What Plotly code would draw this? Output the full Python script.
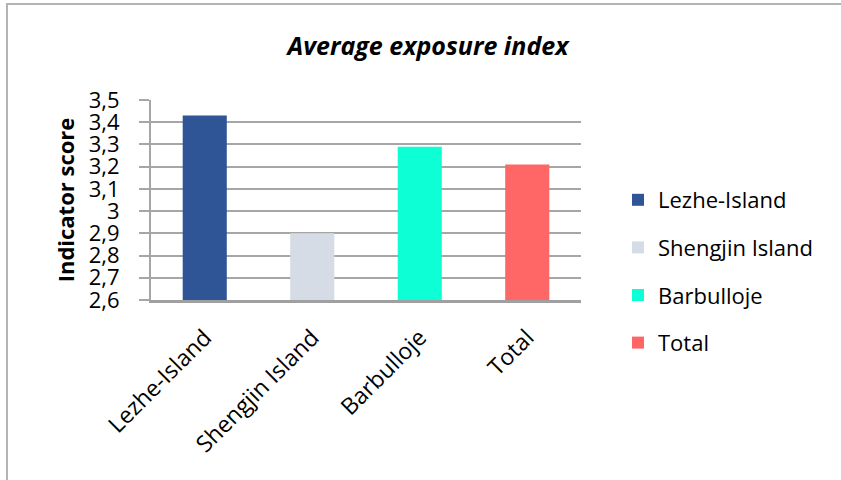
import plotly.graph_objects as go

# Average exposure index by site
categories = ["Lezhe-Island", "Shengjin Island", "Barbulloje", "Total"]
scores = [3.43, 2.90, 3.29, 3.21]
colors = ["#2F5597", "#D6DCE5", "#0DFFD6", "#FF6666"]

tick_values = [2.6, 2.7, 2.8, 2.9, 3.0, 3.1, 3.2, 3.3, 3.4, 3.5]
tick_labels = ["2,6", "2,7", "2,8", "2,9", "3", "3,1", "3,2", "3,3", "3,4", "3,5"]

FONT = "Open Sans, Lato, sans-serif"

# plot area in pixels
L, R, T, B = 151, 581, 100, 300
PW, PH = R - L, B - T

fig = go.Figure()
for name, value, color in zip(categories, scores, colors):
    fig.add_trace(go.Bar(
        x=[name], y=[value], name=name,
        marker=dict(color=color, line=dict(width=0)),
        width=0.41, legendgroup=name,
    ))

fig.update_layout(
    width=841, height=480,
    margin=dict(l=L, r=841 - R, t=T, b=480 - B),
    paper_bgcolor="white", plot_bgcolor="white",
    barmode="overlay",
    title=dict(
        text="<b><i>Average exposure index</i></b>",
        x=428 / 841, xanchor="center", y=1 - 46 / 480, yanchor="middle",
        font=dict(family=FONT, size=25, color="black"),
    ),
    font=dict(family=FONT, size=22, color="black"),
    legend=dict(
        x=(618 - L) / PW, y=(B - 179) / PH, yanchor="top",
        font=dict(family=FONT, size=22, color="black"),
        tracegroupgap=16, itemwidth=30,
        bgcolor="rgba(0,0,0,0)",
    ),
    xaxis=dict(
        type="category", categoryorder="array", categoryarray=categories,
        tickangle=-45, showgrid=False, showline=True,
        linecolor="#A0A0A0", linewidth=3, ticks="",
        ticklabelstandoff=12,
        tickfont=dict(family=FONT, size=23, color="black"),
    ),
    yaxis=dict(
        range=[2.6, 3.5], tickvals=tick_values, ticktext=tick_labels,
        showgrid=True, gridcolor="#A6A6A6", gridwidth=2,
        showline=True, linecolor="#A6A6A6", linewidth=2,
        ticks="outside", ticklen=10, tickcolor="#A6A6A6", tickwidth=2,
        ticklabelstandoff=15,
        tickfont=dict(family=FONT, size=22, color="black"),
        title=dict(text="<b>Indicator score</b>", standoff=8,
                   font=dict(family=FONT, size=22, color="black")),
        zeroline=False,
    ),
    shapes=[
        dict(type="rect", xref="paper", yref="paper",
             x0=(7 - L) / PW, x1=(850 - L) / PW,
             y0=(B - 490) / PH, y1=(B - 4) / PH,
             line=dict(color="#B4B4B4", width=2), fillcolor="rgba(0,0,0,0)",
             layer="below"),
    ],
)

fig.write_html("out.html")
